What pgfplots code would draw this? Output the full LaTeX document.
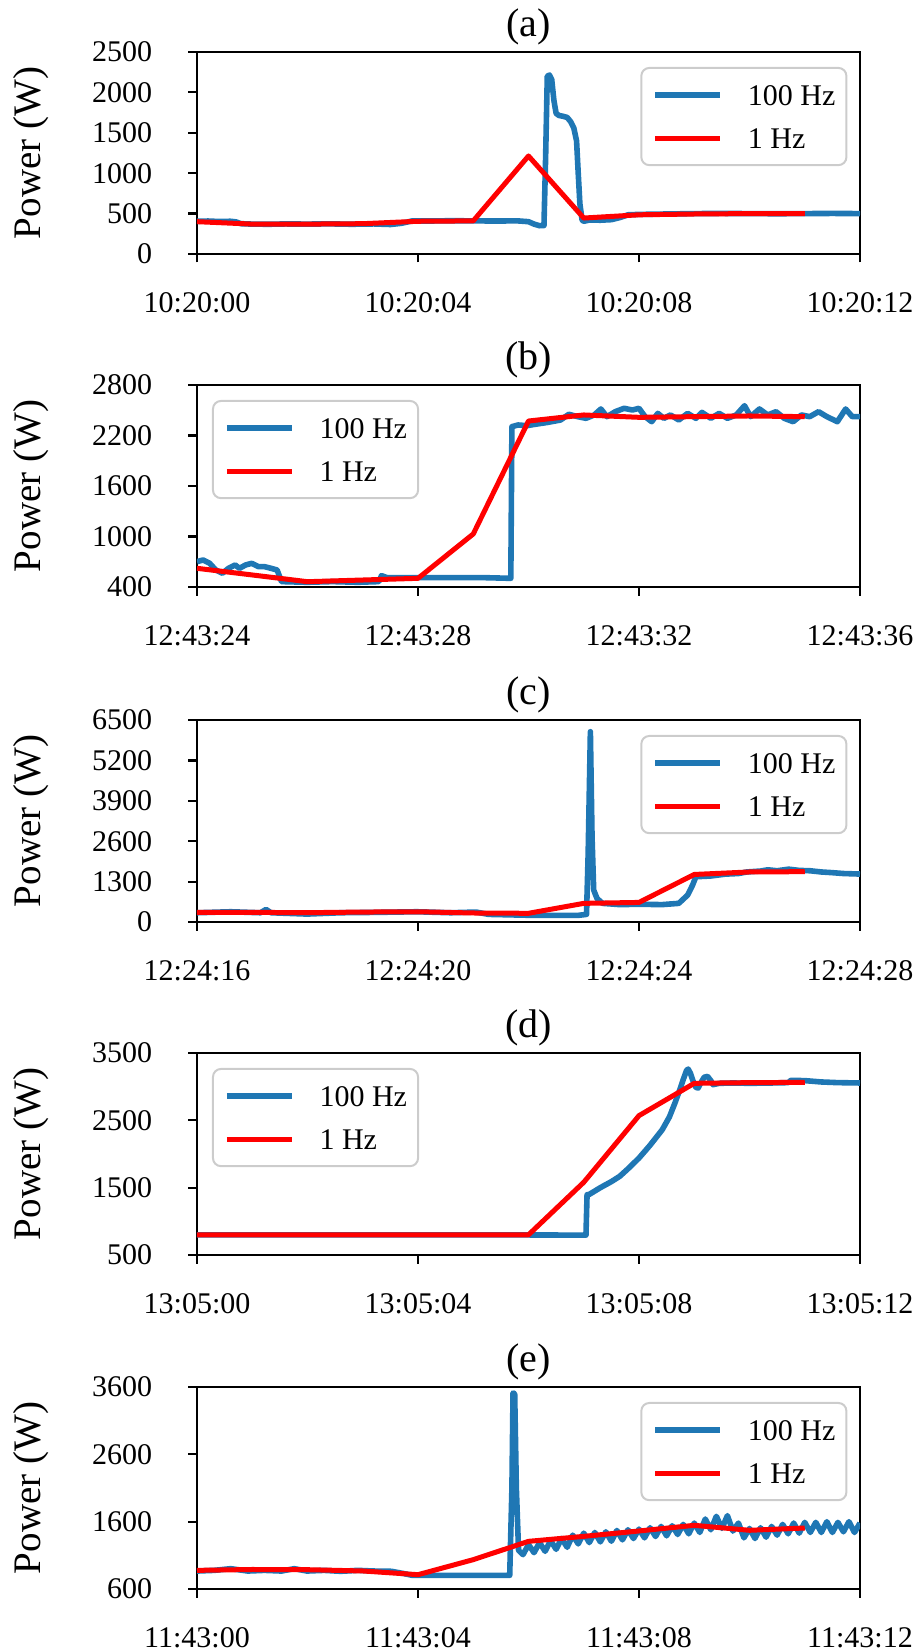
\documentclass[border=0pt]{standalone}
\usepackage{pgfplots}
\pgfplotsset{compat=1.18}
\usepackage{fontspec}
\setmainfont{Liberation Serif}

\definecolor{mplblue}{HTML}{1F77B4}
\definecolor{mplred}{HTML}{FF0000}

\pgfplotsset{
  panel/.style={
    scale only axis, width=331.5pt, height=101pt,
    xmin=0, xmax=12, xtick={0,4,8,12},
    axis line style={line width=1.1pt},
    every tick/.style={black, line width=1.1pt},
    tick align=outside, major tick length=4.25pt,
    tick pos=left,
    scaled y ticks=false,
    ticklabel style={font=\fontsize{15}{15}\selectfont},
    xticklabel style={anchor=north, inner sep=0pt, yshift=-15pt},
    yticklabel style={anchor=east, inner sep=0pt, xshift=-18pt},
    /pgf/number format/assume math mode=true,
    /pgf/number format/1000 sep={},
    ylabel={Power (W)},
    ylabel style={font=\fontsize{19.5}{19.5}\selectfont, at={(axis description cs:-0.2504,0.5)}, anchor=center},
    title style={font=\fontsize{20}{20}\selectfont, at={(axis description cs:0.5,1.015)}, anchor=base},
    legend style={font=\fontsize{15}{15}\selectfont, draw=black!20, line width=1pt,
      rounded corners=4pt, fill=white, inner xsep=5.5pt, inner ysep=8.2pt,
      row sep=11.2pt, column sep=12.5pt,
      nodes={inner sep=0pt, text height=10.5pt, text depth=0pt}, cells={anchor=west}},
    legend image code/.code={\draw[#1, rounded corners=0pt] (0pt,0pt) -- (32.5pt,0pt);},
  },
  legR/.style={legend style={at={(axis description cs:0.981,0.926)}, anchor=north east}},
  legL/.style={legend style={at={(axis description cs:0.0226,0.926)}, anchor=north west}},
  hz100/.style={mplblue, line width=2.8pt, line join=round},
  hz1/.style={mplred, line width=2.5pt, line join=round},
}

\begin{document}
\begin{tikzpicture}

% (a)
\begin{axis}[panel, legR, at={(0pt,0pt)}, anchor=south west,
  title={(a)}, ymin=0, ymax=2500, ytick={0,500,1000,1500,2000,2500},
  xticklabels={10:20:00,10:20:04,10:20:08,10:20:12}]
\addplot[hz100] coordinates {
(0,405) (0.2,408) (0.4,402) (0.6,405) (0.7,398) (0.8,375) (1.0,370) (1.3,368)
(1.6,372) (2.0,370) (2.4,373) (2.8,368) (3.2,372) (3.5,365) (3.7,380) (3.9,410)
(4.2,408) (4.6,412) (5.0,410) (5.4,408) (5.8,410) (6.0,400) (6.1,370) (6.2,350)
(6.28,352) (6.31,1200) (6.34,2200) (6.38,2215) (6.42,2160) (6.46,1900) (6.5,1740)
(6.55,1715) (6.62,1705) (6.7,1690) (6.76,1640) (6.82,1560) (6.87,1400) (6.9,1000)
(6.93,620) (6.97,420) (7.0,405) (7.1,420) (7.3,418) (7.5,425) (7.65,450) (7.8,485)
(8.0,490) (8.5,495) (9.0,500) (9.5,502) (10.0,500) (10.5,498) (11.0,500) (11.5,502) (12,500)
};
\addlegendentry{100 Hz}
\addplot[hz1] coordinates {
(0,400) (1,370) (2,370) (3,375) (4,405) (5,410) (6,1213) (7,445) (8,485) (9,495) (10,500) (11,500)
};
\addlegendentry{1 Hz}
\end{axis}

% (b)
\begin{axis}[panel, legL, at={(0pt,-166.5pt)}, anchor=south west,
  title={(b)}, ymin=400, ymax=2800, ytick={400,1000,1600,2200,2800},
  xticklabels={12:43:24,12:43:28,12:43:32,12:43:36}]
\addplot[hz100] coordinates {
(0,701) (0.11,721) (0.23,681) (0.34,602) (0.46,563) (0.57,622) (0.69,662) (0.77,622)
(0.88,662) (0.99,681) (1.11,642) (1.22,642) (1.34,622) (1.45,602) (1.53,464) (1.99,456)
(2.45,464) (2.91,456) (3.29,464) (3.34,535) (3.44,511) (3.98,511) (4.59,511) (5.2,511)
(5.68,503) (5.70,2305) (5.81,2325) (5.97,2317) (6.12,2333) (6.35,2356) (6.58,2384)
(6.73,2452) (6.89,2424) (7.04,2404) (7.19,2444) (7.31,2515) (7.42,2424) (7.57,2483)
(7.73,2523) (7.88,2503) (8.0,2523) (8.11,2424) (8.23,2364) (8.34,2463) (8.45,2404)
(8.57,2444) (8.72,2384) (8.88,2463) (9.03,2404) (9.14,2475) (9.3,2404) (9.45,2463)
(9.6,2404) (9.76,2444) (9.91,2554) (10.02,2424) (10.18,2515) (10.33,2444) (10.48,2483)
(10.63,2404) (10.79,2364) (10.94,2444) (11.09,2424) (11.25,2483) (11.4,2424) (11.59,2364)
(11.74,2515) (11.86,2424) (12.0,2424)
};
\addlegendentry{100 Hz}
\addplot[hz1] coordinates {
(0,622) (1,543) (2,463) (3,483) (4,503) (5,1030) (6,2372) (7,2444) (8,2416) (9,2424) (10,2432) (11,2424)
};
\addlegendentry{1 Hz}
\end{axis}

% (c)
\begin{axis}[panel, legR, at={(0pt,-334pt)}, anchor=south west,
  title={(c)}, ymin=0, ymax=6500, ytick={0,1300,2600,3900,5200,6500},
  xticklabels={12:24:16,12:24:20,12:24:24,12:24:28}]
\addplot[hz100] coordinates {
(0,298) (0.61,330) (1.15,298) (1.25,405) (1.34,298) (1.99,255) (2.6,298) (3.21,309)
(3.98,330) (4.59,298) (5.05,320) (5.28,245) (6.12,212) (6.89,212) (7.05,245) (7.08,2208)
(7.12,6124) (7.15,2745) (7.18,1028) (7.24,759) (7.34,600) (7.65,560) (8.0,570) (8.42,560)
(8.72,600) (8.88,867) (8.97,1189) (9.03,1457) (9.3,1480) (9.56,1540) (9.8,1560) (9.95,1610)
(10.2,1640) (10.33,1680) (10.5,1650) (10.71,1700) (10.9,1660) (11.09,1650) (11.3,1610)
(11.48,1590) (11.7,1560) (12,1543)
};
\addlegendentry{100 Hz}
\addplot[hz1] coordinates {
(0,310) (1,310) (2,300) (3,320) (4,330) (5,290) (6,280) (7,600) (8,630) (9,1530) (10,1610) (11,1620)
};
\addlegendentry{1 Hz}
\end{axis}

% (d)
\begin{axis}[panel, legL, at={(0pt,-500.5pt)}, anchor=south west,
  title={(d)}, ymin=500, ymax=3500, ytick={500,1500,2500,3500},
  xticklabels={13:05:00,13:05:04,13:05:08,13:05:12}]
\addplot[hz100] coordinates {
(0,800) (1,800) (2,798) (3,800) (4,800) (5,800) (6,798) (7.04,795) (7.06,1396) (7.1,1400)
(7.3,1500) (7.5,1590) (7.65,1668) (7.8,1780) (8.0,1940) (8.2,2130) (8.42,2360) (8.55,2550)
(8.65,2757) (8.75,2980) (8.8,3104) (8.86,3240) (8.89,3262) (8.93,3200) (8.98,3080) (9.03,2990)
(9.07,2980) (9.12,3060) (9.18,3140) (9.24,3153) (9.3,3090) (9.34,3030) (9.45,3050) (9.7,3055)
(10,3050) (10.4,3055) (10.7,3060) (10.75,3094) (11,3090) (11.3,3070) (11.6,3060) (12,3055)
};
\addlegendentry{100 Hz}
\addplot[hz1] coordinates {
(0,800) (1,800) (2,800) (3,800) (4,800) (5,800) (6,800) (7,1580) (8,2570) (9,3050) (10,3060) (11,3064)
};
\addlegendentry{1 Hz}
\end{axis}

% (e)
\begin{axis}[panel, legR, at={(0pt,-667.5pt)}, anchor=south west,
  title={(e)}, ymin=600, ymax=3600, ytick={600,1600,2600,3600},
  xticklabels={11:43:00,11:43:04,11:43:08,11:43:12}]
\addplot[hz100] coordinates {
(0,867) (0.31,877) (0.61,902) (0.92,867) (1.22,877) (1.53,867) (1.76,902) (1.99,867)
(2.3,877) (2.6,863) (2.91,877) (3.21,867) (3.52,863) (3.75,828) (3.9,803) (4.59,803)
(5.36,803) (5.66,803) (5.70,2100) (5.72,3511) (5.75,3500) (5.78,2100) (5.82,1175)
(5.9,1110) (6.0,1260) (6.1,1140) (6.2,1290) (6.3,1160) (6.4,1320) (6.5,1190) (6.6,1350)
(6.7,1220) (6.8,1400) (6.9,1270) (7.0,1430) (7.1,1290) (7.2,1440) (7.3,1300) (7.4,1450)
(7.5,1310) (7.6,1470) (7.7,1330) (7.8,1480) (7.9,1350) (8.0,1490) (8.1,1360) (8.2,1510)
(8.3,1380) (8.4,1530) (8.5,1390) (8.6,1540) (8.7,1410) (8.8,1560) (8.9,1420) (9.0,1580)
(9.1,1440) (9.2,1640) (9.3,1480) (9.4,1680) (9.5,1500) (9.6,1690) (9.7,1460) (9.8,1580)
(9.9,1360) (10.0,1500) (10.1,1350) (10.2,1510) (10.3,1370) (10.4,1530) (10.5,1400)
(10.6,1560) (10.7,1420) (10.8,1580) (10.9,1430) (11.0,1590) (11.1,1440) (11.2,1590)
(11.3,1440) (11.4,1600) (11.5,1440) (11.6,1590) (11.7,1450) (11.8,1600) (11.9,1440) (12.0,1580)
};
\addlegendentry{100 Hz}
\addplot[hz1] coordinates {
(0,877) (1,890) (2,887) (3,868) (4,813) (5,1036) (6,1308) (7,1382) (8,1462) (9,1546) (10,1472) (11,1506)
};
\addlegendentry{1 Hz}
\end{axis}

\pgfresetboundingbox
\path[use as bounding box] (-98.5pt,-699pt) rectangle (362pt,127pt);
\end{tikzpicture}
\end{document}
